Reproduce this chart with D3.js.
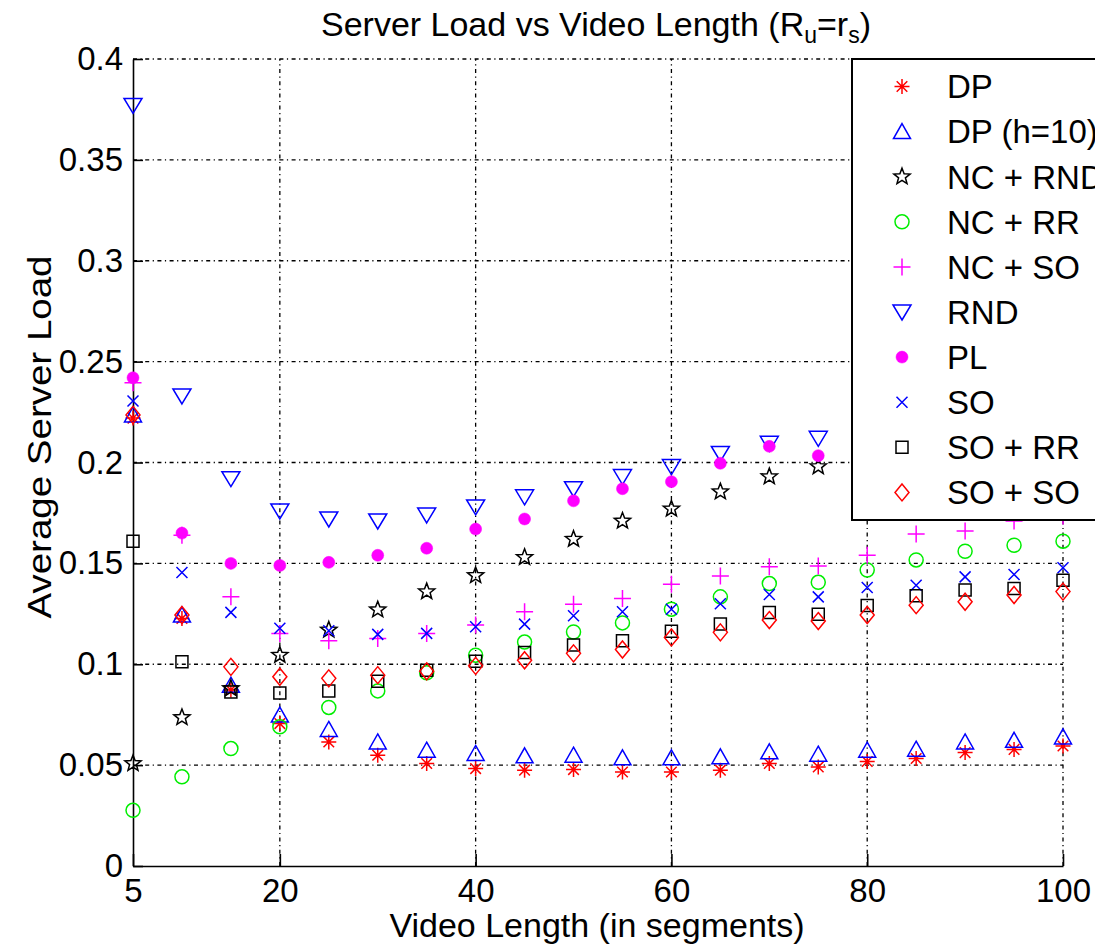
<!DOCTYPE html>
<html><head><meta charset="utf-8">
<script src="https://cdn.jsdelivr.net/npm/d3@7"></script>
<style>
body{margin:0;background:#fff}
svg{display:block}
text{font-family:"Liberation Sans",Arial,Helvetica,sans-serif;fill:#000}
</style>
</head><body><svg id="c" width="1095" height="949"></svg>
<script>
// ---- data ----
const videoLength = [5,10,15,20,25,30,35,40,45,50,55,60,65,70,75,80,85,90,95,100];
const xTickValues = [5,20,40,60,80,100];
const yTickValues = [0,0.05,0.1,0.15,0.2,0.25,0.3,0.35,0.4];
const yTickLabels = ["0","0.05","0.1","0.15","0.2","0.25","0.3","0.35","0.4"];
const seriesNames = ["DP","DP (h=10)","NC + RND","NC + RR","NC + SO","RND","PL","SO","SO + RR","SO + SO"];

const dp     = [0.222,0.1227,0.0872,0.0706,0.0615,0.0549,0.0508,0.0483,0.0475,0.0478,0.0466,0.0466,0.0475,0.0508,0.0491,0.0518,0.0533,0.0562,0.0578,0.0595];
const dpH10  = [0.2236,0.1244,0.0896,0.0748,0.0677,0.0615,0.0574,0.0558,0.0546,0.0549,0.0536,0.0536,0.0541,0.0566,0.0554,0.0574,0.0579,0.0615,0.0623,0.064];
const ncRnd  = [0.0508,0.0736,0.088,0.1045,0.117,0.127,0.136,0.144,0.153,0.162,0.171,0.177,0.1855,0.193,0.198,null,null,null,null,null];
const ncRr   = [0.0276,0.0442,0.0582,0.069,0.0786,0.0868,0.0958,0.1045,0.111,0.116,0.1205,0.1273,0.1334,0.140,0.1406,0.1467,0.1517,0.156,0.159,0.161];
const ncSo   = [0.2395,0.164,0.1334,0.1153,0.1116,0.1128,0.1153,0.1194,0.126,0.1298,0.1326,0.1397,0.1437,0.1483,0.1487,0.154,0.1645,0.166,0.171,0.1735];
const rnd    = [0.377,0.233,0.192,0.176,0.172,0.171,0.174,0.178,0.183,0.187,0.193,0.198,0.2045,0.2095,0.212,null,null,null,null,null];
const pl     = [0.242,0.165,0.150,0.149,0.1505,0.154,0.1575,0.167,0.172,0.181,0.187,0.1905,0.1996,0.208,0.2034,null,null,null,null,null];
const so     = [0.2305,0.1455,0.1257,0.1178,0.1166,0.1148,0.1153,0.1186,0.1199,0.124,0.126,0.1273,0.130,0.1346,0.1334,0.138,0.1392,0.1433,0.1445,0.1478];
const soRr   = [0.161,0.1012,0.0863,0.0858,0.0868,0.0916,0.097,0.1015,0.1058,0.1095,0.1116,0.1164,0.1199,0.1257,0.1248,0.1291,0.134,0.1368,0.1376,0.1416];
const soSo   = [0.2236,0.1244,0.0987,0.0938,0.093,0.0946,0.0965,0.0992,0.102,0.1054,0.1073,0.1133,0.1158,0.1219,0.1214,0.1244,0.1293,0.131,0.1343,0.136];

const seriesValues = [dp,dpH10,ncRnd,ncRr,ncSo,rnd,pl,so,soRr,soSo];
const seriesStyle = [
  {color:"#ff0000", marker:"asterisk"},
  {color:"#0000ff", marker:"triUp"},
  {color:"#000000", marker:"star"},
  {color:"#00ee00", marker:"circle"},
  {color:"#ff00ff", marker:"plus"},
  {color:"#0000ff", marker:"triDown"},
  {color:"#ff00ff", marker:"dot"},
  {color:"#0000ff", marker:"cross"},
  {color:"#000000", marker:"square"},
  {color:"#ff0000", marker:"diamond"}
];

// ---- layout ----
const svg = d3.select("#c");
const x = d3.scaleLinear().domain([5,100]).range([133,1063]);
const y = d3.scaleLinear().domain([0,0.4]).range([866,59]);

function starPath(R, r){
  const pts = d3.range(10).map(i=>{
    const a = -Math.PI/2 + i*Math.PI/5;
    const rr = i%2===0 ? R : r;
    return [rr*Math.cos(a), rr*Math.sin(a)];
  });
  return "M" + pts.map(p=>p[0].toFixed(2)+","+p[1].toFixed(2)).join("L") + "Z";
}
function markerPath(type){
  switch(type){
    case "asterisk": return "M0,-7.5V7.5M-7.5,0H7.5M-5.3,-5.3L5.3,5.3M-5.3,5.3L5.3,-5.3";
    case "triUp": return "M0,-8L8.5,7L-8.5,7Z";
    case "triDown": return "M0,8L9,-7L-9,-7Z";
    case "star": return starPath(8.5,3.6);
    case "circle": return "M7,0A7,7 0 1,1 -7,0A7,7 0 1,1 7,0Z";
    case "plus": return "M0,-8.5V8.5M-8.5,0H8.5";
    case "dot": return "M6,0A6,6 0 1,1 -6,0A6,6 0 1,1 6,0Z";
    case "cross": return "M-5.5,-5.5L5.5,5.5M-5.5,5.5L5.5,-5.5";
    case "square": return "M-6,-6H6V6H-6Z";
    case "diamond": return "M0,-8.5L7,0L0,8.5L-7,0Z";
  }
}
function drawMarker(g, st){
  const filled = st.marker === "dot";
  g.append("path").attr("d", markerPath(st.marker))
    .attr("fill", filled ? st.color : "none")
    .attr("stroke", st.color)
    .attr("stroke-width", filled ? 0.5 : 1.5)
    .attr("stroke-linejoin","miter");
}

// ---- grid ----
const grid = svg.append("g").attr("stroke","#000").attr("stroke-width",1.3)
  .attr("stroke-dasharray","4,3.5,1.2,3.5");
grid.selectAll("line.v").data(xTickValues.filter(v=>v!==5)).enter().append("line")
  .attr("x1",d=>x(d)).attr("x2",d=>x(d)).attr("y1",y(0)).attr("y2",y(0.4));
grid.selectAll("line.h").data(yTickValues.filter(v=>v!==0)).enter().append("line")
  .attr("x1",x(5)).attr("x2",x(100)).attr("y1",d=>y(d)).attr("y2",d=>y(d));

// ---- axes ----
const xAxis = d3.axisBottom(x).tickValues(xTickValues).tickFormat(d3.format("d"))
  .tickSizeInner(-12).tickSizeOuter(0).tickPadding(13);
const yAxis = d3.axisLeft(y).tickValues(yTickValues).tickFormat((d,i)=>yTickLabels[i])
  .tickSizeInner(-10).tickSizeOuter(0).tickPadding(10);
const gx = svg.append("g").attr("transform",`translate(0,${y(0)})`).call(xAxis);
const gy = svg.append("g").attr("transform",`translate(${x(5)},0)`).call(yAxis);
[gx,gy].forEach(g=>{
  g.selectAll("path.domain").attr("stroke","#000").attr("stroke-width",1.6);
  g.selectAll(".tick line").attr("stroke","#000").attr("stroke-width",1.6);
  g.selectAll(".tick text").attr("font-size",33).attr("font-family",'"Liberation Sans",Arial,sans-serif').attr("fill","#000");
});

// ---- series ----
seriesValues.forEach((vals,si)=>{
  const st = seriesStyle[si];
  const pts = vals.map((v,i)=>({x:videoLength[i], v})).filter(d=>d.v!==null);
  const g = svg.append("g");
  g.selectAll("g").data(pts).enter().append("g")
    .attr("transform",d=>`translate(${x(d.x)},${y(d.v)})`)
    .each(function(){ drawMarker(d3.select(this), st); });
});

// ---- legend ----
const lg = svg.append("g");
lg.append("rect").attr("x",852).attr("y",59).attr("width",300).attr("height",461)
  .attr("fill","#fff").attr("stroke","#000").attr("stroke-width",2);
seriesNames.forEach((name,i)=>{
  const cy = 86.5 + i*45.1;
  const mg = lg.append("g").attr("transform",`translate(902,${cy})`);
  drawMarker(mg, seriesStyle[i]);
  lg.append("text").attr("x",947).attr("y",cy).attr("dy","0.36em")
    .attr("font-size",33).text(name);
});

// ---- titles ----
const t = svg.append("text").attr("x",596).attr("y",36).attr("text-anchor","middle").attr("font-size",34);
t.append("tspan").text("Server Load vs Video Length (R");
t.append("tspan").attr("font-size",23).attr("dy",7).text("u");
t.append("tspan").attr("dy",-7).text("=r");
t.append("tspan").attr("font-size",23).attr("dy",7).text("s");
t.append("tspan").attr("dy",-7).text(")");

svg.append("text").attr("x",597).attr("y",937).attr("text-anchor","middle")
  .attr("font-size",34).text("Video Length (in segments)");

svg.append("text").attr("transform","translate(51,437) rotate(-90)")
  .attr("text-anchor","middle").attr("font-size",34)
  .attr("textLength",363).attr("lengthAdjust","spacingAndGlyphs")
  .text("Average Server Load");
</script></body></html>
